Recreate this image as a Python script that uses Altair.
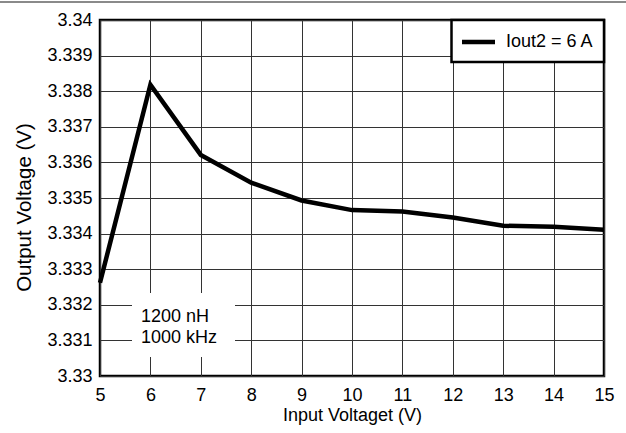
import altair as alt
import pandas as pd

vin = [5, 6, 7, 8, 9, 10, 11, 12, 13, 14, 15]
vout = [3.33262, 3.33818, 3.33621, 3.33543, 3.33493, 3.33466, 3.33462, 3.33445, 3.33422, 3.33419, 3.33411]
series_name = ["Iout2 = 6 A"]
note_lines = ["1200 nH", "1000 kHz"]
x_ticks = list(range(5, 16))
y_ticks = [round(3.33 + i * 0.001, 3) for i in range(11)]

FONT = "Liberation Sans"
FS = 18
W, H = 504, 356

df = pd.DataFrame({"vin": vin, "vout": vout})

xs = alt.Scale(domain=[5, 15], nice=False, zero=False)
ys = alt.Scale(domain=[3.33, 3.34], nice=False, zero=False)

line = alt.Chart(df).mark_line(color="black", strokeWidth=4.5, strokeJoin="miter").encode(
    x=alt.X("vin:Q", scale=xs,
            axis=alt.Axis(values=x_ticks, title="Input Voltaget (V)", grid=True,
                          ticks=False, domain=False, labelPadding=10, titlePadding=2,
                          labelFontSize=FS, titleFontSize=FS, labelFont=FONT, titleFont=FONT,
                          labelColor="black", titleColor="black", titleFontWeight="normal",
                          gridColor="#333", gridWidth=1, labelFlush=False)),
    y=alt.Y("vout:Q", scale=ys,
            axis=alt.Axis(values=y_ticks, format="~g", title="Output Voltage (V)", grid=True,
                          ticks=False, domain=False, labelPadding=8,
                          titleX=-70, titleY=187, titleBaseline="alphabetic",
                          labelFontSize=FS, titleFontSize=20.5, labelFont=FONT, titleFont=FONT,
                          labelColor="black", titleColor="black", titleFontWeight="normal",
                          gridColor="#333", gridWidth=1, labelFlush=False)),
)

# top gray rule
top_rule = alt.Chart(pd.DataFrame({"k": [0]})).mark_rule(color="#8a8a8a", strokeWidth=2).encode(
    x=alt.value(-100), x2=alt.value(526), y=alt.value(-18)
)

# annotation box
note_box = alt.Chart(pd.DataFrame({"k": [0]})).mark_rect(fill="white").encode(
    x=alt.value(32), x2=alt.value(135), y=alt.value(273), y2=alt.value(337)
)
note_df = pd.DataFrame({"t": note_lines, "i": [0, 1]})
note_text = alt.Chart(note_df).mark_text(
    font=FONT, fontSize=FS, color="black", align="left", baseline="alphabetic"
).encode(
    text="t:N",
    x=alt.value(41),
    y=alt.Y("i:Q", scale=alt.Scale(domain=[0, 1], range=[302, 323]), axis=None),
)

# legend
leg_box = alt.Chart(pd.DataFrame({"k": [0]})).mark_rect(fill="white", stroke="black", strokeWidth=2.5).encode(
    x=alt.value(351.5), x2=alt.value(504), y=alt.value(0), y2=alt.value(42)
)
leg_line = alt.Chart(pd.DataFrame({"k": [0]})).mark_rule(color="black", strokeWidth=4.5).encode(
    x=alt.value(362), x2=alt.value(395), y=alt.value(22)
)
leg_text = alt.Chart(pd.DataFrame({"t": series_name})).mark_text(
    font=FONT, fontSize=FS, color="black", align="left", baseline="middle"
).encode(text="t:N", x=alt.value(406), y=alt.value(22))

chart = alt.layer(
    line, note_box, note_text, leg_box, leg_line, leg_text, top_rule
).resolve_scale(y="independent").properties(
    width=W, height=H,
    autosize=alt.AutoSizeParams(type="none"),
    padding={"left": 100, "top": 20, "right": 22, "bottom": 57},
    background="white",
).configure_view(stroke="black", strokeWidth=2.5)

chart.save("out.html", embed_options={"renderer": "svg", "actions": False})
